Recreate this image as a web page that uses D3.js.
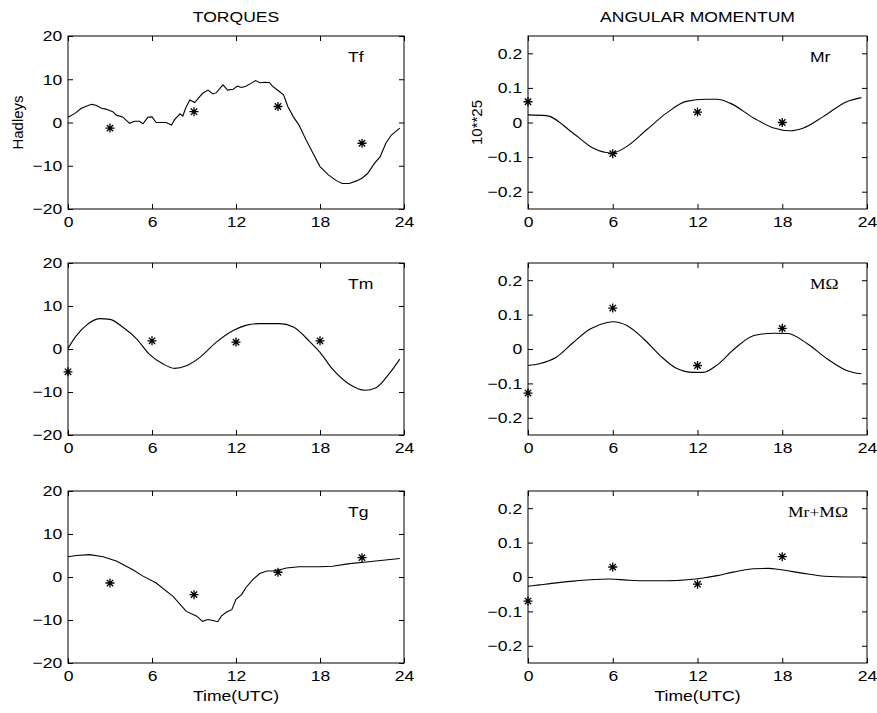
<!DOCTYPE html>
<meta charset="utf-8">
<html>
<head>
<title>Torques and angular momentum</title>
</head>
<style>
  body { margin: 0; background: #fff; }
  svg text { font-family: "Liberation Sans", Arial, sans-serif; fill: #000; font-size: 15px; }
  .tick line { stroke: #000; }
  .box { fill: none; stroke: #000; stroke-width: 1; }
  .curve { fill: none; stroke: #000; stroke-width: 1.1; }
  .star { fill: none; stroke: #000; stroke-width: 1.3; }
  .serif { font-family: "Liberation Serif", "Times New Roman", serif; }
</style>
<script src="https://d3js.org/d3.v7.min.js"></script>
<body>
<svg width="877" height="713"></svg>
</body>
<script>
  // tick labels
  var hourTicks = [0, 6, 12, 18, 24];
  var torqueTicks = [-20, -10, 0, 10, 20];
  var momentumTicks = [-0.2, -0.1, 0, 0.1, 0.2];

  // sample times of the asterisks
  var offsetStarHours = [3, 9, 15, 21];
  var synopticStarHours = [0, 6, 12, 18];

  // Tf
  var tfHours = [0, 0.5, 0.95, 1.67, 2, 2.4, 2.7, 3.2, 3.45, 3.9, 4.4, 4.75, 5.1, 5.36, 5.7, 6.0, 6.3, 6.8, 7.0, 7.4, 7.6, 8.0, 8.2, 8.4, 8.7, 9.05, 9.3, 9.6, 10, 10.35, 10.6, 11.07, 11.4, 11.8, 12.1, 12.4, 12.7, 13.1, 13.4, 13.7, 14.05, 14.4, 14.6, 15, 15.4, 15.7, 16.1, 16.5, 17.0, 17.5, 18.0, 18.6, 19.2, 19.6, 20.1, 20.6, 21, 21.4, 21.9, 22.3, 22.7, 23.1, 23.7];
  var tfValues = [1.2, 2.1, 3.3, 4.2, 4.0, 3.3, 3.1, 2.5, 1.7, 1.3, -0.2, 0.3, 0.3, -0.3, 1.2, 1.3, 0, 0, 0, -0.6, 0.6, 2.0, 1.5, 3.3, 5.2, 4.6, 5.6, 6.7, 7.5, 6.6, 6.9, 8.7, 7.5, 7.7, 8.4, 8.1, 8.4, 9.1, 9.7, 9.2, 9.3, 9.2, 8.4, 7.4, 6.4, 3.7, 1.3, -0.6, -4, -7.1, -10.2, -12.1, -13.5, -14.1, -14.1, -13.5, -12.9, -11.8, -9.4, -7.9, -4.8, -2.9, -1.3];
  var tfStars = [-1.3, 2.5, 3.7, -4.8];

  // Tm
  var tmHours = [0, 0.6, 1.3, 2.26, 3, 3.9, 4.9, 5.8, 6.8, 7.6, 8.45, 9.4, 10.6, 11.8, 12.7, 13.7, 15.1, 16.1, 17.3, 18, 18.9, 20.1, 21.2, 22, 23, 23.7];
  var tmValues = [0.15, 3.1, 5.5, 7.06, 6.9, 5.1, 2.35, -1.2, -3.5, -4.5, -3.9, -2.0, 1.6, 4.3, 5.5, 5.9, 5.9, 5.1, 1.6, -0.8, -4.7, -8.2, -9.6, -9.0, -5.5, -2.35];
  var tmStars = [-5.3, 1.9, 1.6, 1.9];

  // Tg
  var tgHours = [0, 0.6, 1.55, 2.5, 3.45, 4.6, 5.36, 6.3, 7.5, 8.45, 9.2, 9.6, 10, 10.35, 10.7, 10.95, 11.3, 11.7, 12, 12.4, 12.7, 13.2, 13.7, 14.2, 14.6, 15.2, 15.6, 16.5, 18, 18.9, 20.1, 21.3, 22.5, 23.7];
  var tgValues = [4.7, 5.0, 5.2, 4.7, 3.7, 1.75, 0.2, -1.4, -4.5, -8.0, -9.1, -10.3, -9.9, -10.1, -10.4, -9.1, -8.2, -7.6, -5.2, -4.1, -2.5, -0.6, 0.8, 1.4, 1.4, 1.75, 2.1, 2.4, 2.4, 2.5, 3.1, 3.5, 3.9, 4.3];
  var tgStars = [-1.4, -4.1, 1.1, 4.5];

  // Mr
  var mrHours = [0, 1.3, 3.2, 4.6, 5.8, 6.1, 7, 8.4, 9.8, 11.2, 12.6, 13.4, 14.3, 16, 17.4, 18.6, 19.5, 20.9, 22.6, 23.6];
  var mrValues = [0.022, 0.02, -0.031, -0.074, -0.088, -0.087, -0.069, -0.021, 0.027, 0.061, 0.067, 0.067, 0.056, 0.0125, -0.016, -0.024, -0.016, 0.017, 0.061, 0.072];
  var mrStars = [0.06, -0.09, 0.03, 0.0];

  // MΩ
  var moHours = [0, 0.8, 2, 3.2, 4.4, 5.6, 6.05, 7, 8.2, 9.35, 10.5, 11.7, 12.4, 13.4, 14.6, 16, 17.4, 18.4, 19.8, 21.2, 22.6, 23.6];
  var moValues = [-0.048, -0.043, -0.024, 0.019, 0.058, 0.077, 0.079, 0.068, 0.029, -0.019, -0.056, -0.068, -0.068, -0.046, 0, 0.039, 0.046, 0.045, 0.0145, -0.029, -0.063, -0.072];
  var moStars = [-0.128, 0.119, -0.048, 0.06];

  // Mr+MΩ
  var sumHours = [0, 0.8, 2, 3.2, 4.4, 5.8, 7, 8.4, 9.8, 11.3, 12.4, 13.4, 14.6, 16, 17, 17.9, 19.3, 21, 22.6, 23.9];
  var sumValues = [-0.027, -0.023, -0.017, -0.012, -0.008, -0.006, -0.009, -0.011, -0.011, -0.008, -0.003, 0.004, 0.015, 0.024, 0.025, 0.021, 0.012, 0.002, 0, 0];
  var sumStars = [-0.07, 0.029, -0.021, 0.059];

  var svg = d3.select("svg");
  var stretch = 1.17;   // the printed lettering is a bit wide

  var cols = [{x0: 68, x1: 404}, {x0: 528, x1: 867}];
  var rows = [{y0: 36, y1: 209}, {y0: 263, y1: 435}, {y0: 491, y1: 663}];

  var panels = [
    {col: 0, row: 0, name: "Tf", hours: tfHours, values: tfValues, stars: tfStars, starHours: offsetStarHours, torque: true, smooth: false},
    {col: 1, row: 0, name: "Mr", hours: mrHours, values: mrValues, stars: mrStars, starHours: synopticStarHours, torque: false, smooth: true},
    {col: 0, row: 1, name: "Tm", hours: tmHours, values: tmValues, stars: tmStars, starHours: synopticStarHours, torque: true, smooth: true},
    {col: 1, row: 1, name: "MΩ", hours: moHours, values: moValues, stars: moStars, starHours: synopticStarHours, torque: false, smooth: true, serif: true},
    {col: 0, row: 2, name: "Tg", hours: tgHours, values: tgValues, stars: tgStars, starHours: offsetStarHours, torque: true, smooth: false},
    {col: 1, row: 2, name: "Mr+MΩ", hours: sumHours, values: sumValues, stars: sumStars, starHours: synopticStarHours, torque: false, smooth: true, serif: true}
  ];

  function wideText(parent, x, y, str, anchor) {
    return parent.append("g")
      .attr("transform", "translate(" + x + "," + y + ") scale(" + stretch + ",1)")
      .append("text").attr("text-anchor", anchor || "start").text(str);
  }

  function starPath(cx, cy, r) {
    var p = "";
    [0, 45, 90, 135].forEach(function (a) {
      var dx = r * Math.cos(a * Math.PI / 180), dy = r * Math.sin(a * Math.PI / 180);
      p += "M" + (cx - dx) + "," + (cy - dy) + "L" + (cx + dx) + "," + (cy + dy);
    });
    return p;
  }

  var momFormat = function (v) { return v === 0 ? "0" : d3.format(".1f")(v); };

  panels.forEach(function (p) {
    var c = cols[p.col], r = rows[p.row];
    var x = d3.scaleLinear().domain([0, 24]).range([c.x0, c.x1]);
    var y = p.torque
      ? d3.scaleLinear().domain([-20, 20]).range([r.y1, r.y0])
      : d3.scaleLinear().domain([-0.25, 0.25]).range([r.y1, r.y0]);
    var yTicks = p.torque ? torqueTicks : momentumTicks;
    var yFmt = p.torque ? d3.format("d") : momFormat;

    var g = svg.append("g");

    // inward ticks on all four sides, MATLAB style
    g.append("g").attr("transform", "translate(0," + r.y1 + ")")
      .call(d3.axisBottom(x).tickValues(hourTicks).tickSize(-5).tickPadding(7).tickFormat(d3.format("d")));
    g.append("g").attr("transform", "translate(0," + r.y0 + ")")
      .call(d3.axisTop(x).tickValues(hourTicks).tickSize(-5).tickFormat(""));
    g.append("g").attr("transform", "translate(" + c.x0 + ",0)")
      .call(d3.axisLeft(y).tickValues(yTicks).tickSize(-5).tickPadding(5).tickFormat(yFmt));
    g.append("g").attr("transform", "translate(" + c.x1 + ",0)")
      .call(d3.axisRight(y).tickValues(yTicks).tickSize(-5).tickFormat(""));
    g.selectAll(".domain").remove();
    g.selectAll("g").attr("font-family", null).attr("font-size", null);
    g.selectAll(".tick text").attr("transform", "scale(" + stretch + ",1)");

    g.append("rect").attr("class", "box")
      .attr("x", c.x0).attr("y", r.y0)
      .attr("width", c.x1 - c.x0).attr("height", r.y1 - r.y0);

    var line = d3.line()
      .x(function (d) { return x(d[0]); })
      .y(function (d) { return y(d[1]); })
      .curve(p.smooth ? d3.curveMonotoneX : d3.curveLinear);
    g.append("path").attr("class", "curve")
      .attr("d", line(d3.zip(p.hours, p.values)));

    g.selectAll(".star").data(d3.zip(p.starHours, p.stars)).enter()
      .append("path").attr("class", "star")
      .attr("d", function (d) { return starPath(x(d[0]), y(d[1]), 4.5); });

    var labelX = p.col === 0 ? c.x1 - 56 : (p.name === "Mr+MΩ" ? c.x1 - 79 : c.x1 - 57);
    var label = wideText(g, labelX, r.y0 + 26, p.name);
    if (p.serif) label.attr("class", "serif");
  });

  // column titles
  wideText(svg, (cols[0].x0 + cols[0].x1) / 2, 22, "TORQUES", "middle");
  wideText(svg, (cols[1].x0 + cols[1].x1) / 2, 22, "ANGULAR MOMENTUM", "middle");

  // y labels
  svg.append("text").attr("transform", "translate(23," + ((rows[0].y0 + rows[0].y1) / 2) + ") rotate(-90)")
    .attr("text-anchor", "middle").text("Hadleys");
  svg.append("text").attr("transform", "translate(482," + ((rows[0].y0 + rows[0].y1) / 2) + ") rotate(-90)")
    .attr("text-anchor", "middle").text("10**25");

  // x labels
  cols.forEach(function (c) {
    wideText(svg, (c.x0 + c.x1) / 2, 701, "Time(UTC)", "middle");
  });
</script>
</html>
